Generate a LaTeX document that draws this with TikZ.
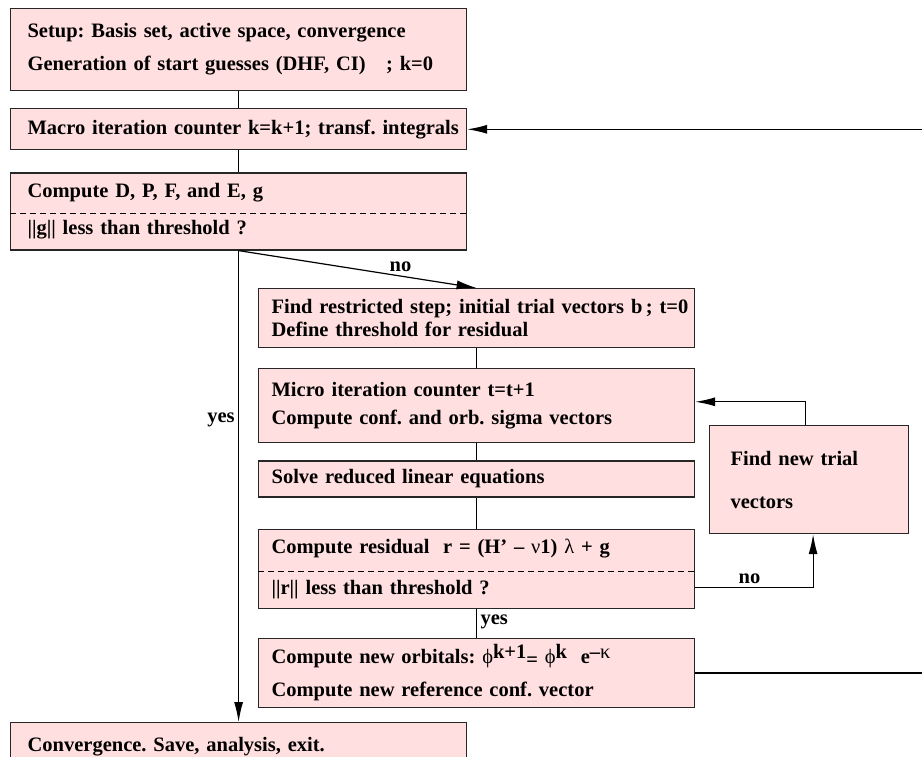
\documentclass[tikz,border=0pt]{standalone}
\usepackage{fontspec}
\setmainfont{Liberation Serif}
\usetikzlibrary{arrows.meta,positioning,calc}
\definecolor{boxpink}{HTML}{FFDFDF}
\newcommand{\gk}[1]{{\mdseries #1}}

\begin{document}
\begin{tikzpicture}[x=1pt,y=-1pt,>={Latex[length=20pt,width=9pt]},
font=\fontsize{20.5}{23}\selectfont\bfseries,
box/.style={draw=black!85,line width=1.2pt,fill=boxpink,inner xsep=6pt,inner ysep=0pt,text width=444pt,anchor=north west,
  execute at begin node={\raggedright\leftskip=11pt\frenchspacing\hyphenpenalty=10000}},
narrow/.style={box,text width=424pt,execute at begin node={\leftskip=7pt}},
arrow/.style={->,line width=1.2pt},
link/.style={line width=1.2pt},
split/.style={dash pattern=on 6pt off 4pt,line width=0.8pt}]
\useasboundingbox (0,0) rectangle (922,756);
% outer loop
\node[box,minimum height=82pt] (setup) at (10,8) {Setup: Basis set, active space, convergence\\[10pt]Generation of start guesses (DHF, CI)\ \ \ ; k=0};
\node[box,minimum height=41pt,below=17pt of setup] (macro) {Macro iteration counter k=k+1; transf. integrals};
\node[box,minimum height=77pt,below=22pt of macro] (test) {Compute D, P, F, and E, g\\[14pt]||g|| less than threshold ?};
\node[box,minimum height=48pt] (conv) at (10,722) {Convergence. Save, analysis, exit.};
% inner loop
\node[narrow,minimum height=59pt] (step) at (258,288) {\mbox{Find restricted step; initial trial vectors b\,; t=0}\\Define threshold for residual};
\node[narrow,minimum height=74pt,below=20pt of step] (micro) {Micro iteration counter t=t+1\\[5pt]Compute conf. and orb. sigma vectors};
\node[narrow,minimum height=36pt,below=17pt of micro] (solve) {Solve reduced linear equations};
\node[narrow,minimum height=79pt,below=31pt of solve] (resid) {Compute residual\ \ r = (H’ – \gk{ν}1)\ \gk{λ} + g\\[18pt]||r|| less than threshold ?};
\node[narrow,minimum height=69pt,below=29pt of resid] (orbit) {Compute new orbitals: \gk{ϕ}\raisebox{.5ex}{k+1}\raisebox{-.3ex}{=} \gk{ϕ}\raisebox{.5ex}{k}\ \ e\raisebox{.6ex}{–\gk{κ}}\\[10pt]Compute new reference conf. vector};
\node[box,text width=157pt,inner xsep=21pt,minimum height=108pt,execute at begin node={\leftskip=0pt}] (trial) at (709,425) {Find new trial\\[20pt]vectors};
\coordinate (back) at (922,669);
\coordinate (ret) at (922,127);
% dashed separators
\draw[split] ($(test.north west)!0.52!(test.south west)$) -- ($(test.north east)!0.52!(test.south east)$);
\draw[split] ($(resid.north west)!0.53!(resid.south west)$) -- ($(resid.north east)!0.53!(resid.south east)$);
% connectors
\draw[link] (setup) -- (macro);
\draw[link] (macro) -- (test);
\draw[arrow] (test.south) -- node[pos=0.36,left]{yes} (conv.north);
\draw[arrow] (test.south) -- node[pos=0.68,above]{no} (step.north);
\draw[link] (step) -- (micro);
\draw[link] (micro) -- (solve);
\draw[link] (solve) -- (resid);
\draw[link] (resid) -- node[pos=0.45,right]{yes} (orbit);
\draw[arrow] ([yshift=-19pt]resid.east) -| node[pos=0.23,above]{no} ([xshift=4pt]trial.south);
\draw[arrow] ([xshift=-4pt]trial.north) |- ([yshift=4pt]micro.east);
\draw[link] (orbit.east) -- (orbit.east -| back);
\draw[arrow] (macro.east -| ret) -- (macro.east);
\end{tikzpicture}
\end{document}
